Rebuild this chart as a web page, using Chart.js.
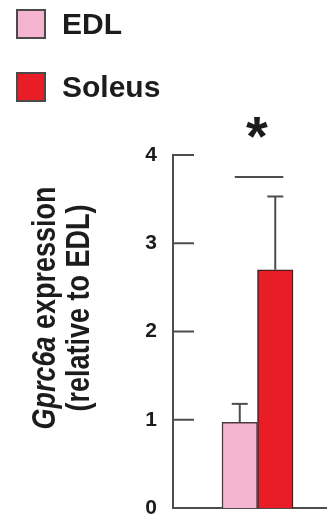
<!DOCTYPE html>
<html lang="en">
<head>
  <meta charset="UTF-8">
  <title>Gprc6a expression</title>
  <script src="https://cdn.jsdelivr.net/npm/chart.js"></script>
  <style>
    html, body { margin: 0; padding: 0; background: #fff; overflow: hidden; }
    /* the figure is cropped on the right, so the canvas is a bit wider than the window */
    #chartContainer { position: relative; width: 342px; height: 518px; }
  </style>
</head>
<body>
  <div id="chartContainer">
    <canvas id="myChart"></canvas>
  </div>
  <script>
    // Data
    const categories = ['Gprc6a'];
    const seriesNames = ['EDL', 'Soleus'];
    const edlMean = [0.97];
    const edlErr = [0.21];
    const soleusMean = [2.70];
    const soleusErr = [0.83];
    const yTicks = [0, 1, 2, 3, 4];
    const sigLevel = [3.75];
    const sigMark = '*';
    const titleItalic = 'Gprc6a';
    const titleRest = ' expression';
    const titleLine2 = '(relative to EDL)';

    const FONT = '"Liberation Sans", Arial, sans-serif';
    const AXIS = '#4d4d4d';
    const TEXT = '#1c1c1c';

    function line(ctx, x1, y1, x2, y2) {
      ctx.beginPath();
      ctx.moveTo(x1, y1);
      ctx.lineTo(x2, y2);
      ctx.stroke();
    }

    // inward ticks, error bars, significance bar
    const decor = {
      id: 'decor',
      afterDatasetsDraw(chart) {
        const ctx = chart.ctx;
        const y = chart.scales.y;
        const area = chart.chartArea;
        ctx.save();
        ctx.strokeStyle = AXIS;
        ctx.lineWidth = 2;
        yTicks.forEach(v => {
          const py = y.getPixelForValue(v);
          line(ctx, area.left, py, area.left + 21, py);
        });

        chart.data.datasets.forEach((ds, i) => {
          chart.getDatasetMeta(i).data.forEach((bar, j) => {
            const top = y.getPixelForValue(ds.data[j] + ds.errors[j]);
            line(ctx, bar.x, bar.y, bar.x, top);
            line(ctx, bar.x - 8, top, bar.x + 8, top);
          });
        });

        const a = chart.getDatasetMeta(0).data[0];
        const b = chart.getDatasetMeta(1).data[0];
        const sy = y.getPixelForValue(sigLevel[0]);
        const x1 = a.x - 5, x2 = b.x + 8;
        line(ctx, x1, sy, x2, sy);

        ctx.fillStyle = TEXT;
        ctx.font = 'bold 56px ' + FONT;
        ctx.textAlign = 'center';
        ctx.textBaseline = 'alphabetic';
        const m = ctx.measureText(sigMark);
        const cy = sy - 50;
        ctx.fillText(sigMark, (x1 + x2) / 2 - 2, cy + (m.actualBoundingBoxAscent - m.actualBoundingBoxDescent) / 2);
        ctx.restore();
      }
    };

    // legend boxes top-left and the two-line rotated y title
    const extras = {
      id: 'extras',
      afterDraw(chart) {
        const ctx = chart.ctx;
        ctx.save();
        chart.data.datasets.forEach((ds, i) => {
          const top = 10 + i * 63;
          ctx.fillStyle = ds.backgroundColor;
          ctx.fillRect(17, top, 28, 28);
          ctx.strokeStyle = '#4a4a4a';
          ctx.lineWidth = 2;
          ctx.strokeRect(17, top, 28, 28);
          ctx.fillStyle = TEXT;
          ctx.font = 'bold 30px ' + FONT;
          ctx.textAlign = 'left';
          ctx.textBaseline = 'middle';
          ctx.fillText(ds.label, 62, top + 16);
        });

        const cy = 308;
        const size = 27;
        const stretch = 1.2;
        ctx.fillStyle = TEXT;
        ctx.textBaseline = 'alphabetic';
        ctx.textAlign = 'left';

        // line 1: italic gene name + plain word
        ctx.save();
        ctx.translate(55, cy);
        ctx.rotate(-Math.PI / 2);
        ctx.scale(1, stretch);
        ctx.font = 'italic bold ' + size + 'px ' + FONT;
        const w1 = ctx.measureText(titleItalic).width;
        ctx.font = 'bold ' + size + 'px ' + FONT;
        const w2 = ctx.measureText(titleRest).width;
        const start = -(w1 + w2) / 2;
        ctx.font = 'italic bold ' + size + 'px ' + FONT;
        ctx.fillText(titleItalic, start, 0);
        ctx.font = 'bold ' + size + 'px ' + FONT;
        ctx.fillText(titleRest, start + w1, 0);
        ctx.restore();

        // line 2
        ctx.save();
        ctx.translate(89, cy);
        ctx.rotate(-Math.PI / 2);
        ctx.scale(1, stretch);
        ctx.font = 'bold ' + size + 'px ' + FONT;
        ctx.textAlign = 'center';
        ctx.fillText(titleLine2, 0, 0);
        ctx.restore();

        ctx.restore();
      }
    };

    const ctx = document.getElementById('myChart').getContext('2d');
    const myChart = new Chart(ctx, {
      type: 'bar',
      data: {
        labels: categories,
        datasets: [{
          label: seriesNames[0],
          data: edlMean,
          errors: edlErr,
          backgroundColor: '#f5b5d1',
          borderColor: '#4a3a40',
          borderWidth: 1.5,
          barThickness: 35.5
        },
        {
          label: seriesNames[1],
          data: soleusMean,
          errors: soleusErr,
          backgroundColor: '#e81d25',
          borderColor: '#4a1c1c',
          borderWidth: 1.5,
          barThickness: 35.5
        }]
      },
      options: {
        responsive: true,
        maintainAspectRatio: false,
        animation: false,
        layout: { padding: { top: 155, right: 0, bottom: 0, left: 0 } },
        plugins: {
          legend: { display: false },
          tooltip: { enabled: false }
        },
        scales: {
          x: {
            grid: { display: false },
            border: { display: true, color: AXIS, width: 2 },
            ticks: { display: false },
            afterFit(scale) { scale.height = 10; }
          },
          y: {
            min: 0,
            max: 4,
            afterBuildTicks(scale) { scale.ticks = yTicks.map(v => ({ value: v })); },
            afterFit(scale) {
              scale.width = 173;
              scale.paddingTop = 0;
              scale.paddingBottom = 0;
            },
            grid: { display: false },
            border: { display: true, color: AXIS, width: 2 },
            ticks: {
              color: TEXT,
              padding: 8,
              font: { family: FONT, size: 21, weight: 'bold' }
            }
          }
        }
      },
      plugins: [decor, extras]
    });
  </script>
</body>
</html>
